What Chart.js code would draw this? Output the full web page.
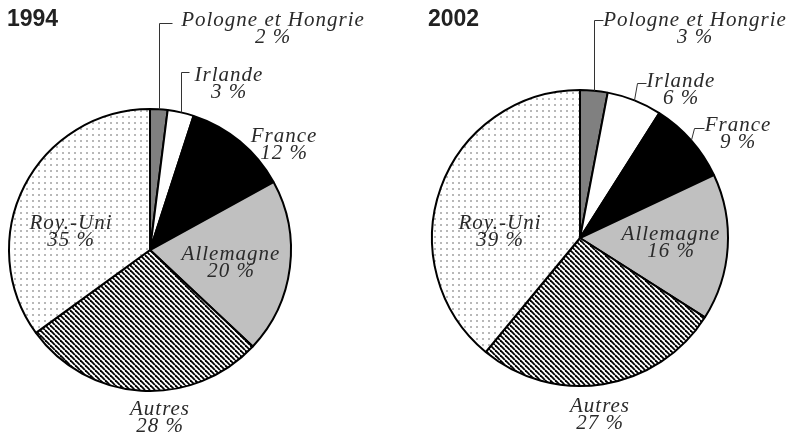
<!DOCTYPE html>
<html>
<head>
<meta charset="utf-8">
<script src="https://cdn.jsdelivr.net/npm/chart.js@4.4.0/dist/chart.umd.min.js"></script>
<style>
  html, body { margin: 0; padding: 0; background: #fff; }
  #wrap { position: relative; width: 790px; height: 439px; }
  canvas { position: absolute; left: 0; top: 0; }
</style>
</head>
<body>
<div id="wrap">
  <canvas id="pie1994" width="790" height="439"></canvas>
  <canvas id="pie2002" width="790" height="439"></canvas>
</div>
<script>
// data (clockwise from 12 o'clock)
const categories = ['Pologne et Hongrie', 'Irlande', 'France', 'Allemagne', 'Autres', 'Roy.-Uni']
const years = ['1994', '2002']
const shares1994 = [2, 3, 12, 20, 28, 35]
const shares2002 = [3, 6, 9, 16, 27, 39]

const W = 790
const H = 439
const BORDER = 2

function createHatchPattern(color = 'black', width = 1.8, size = 5) {
  let shape = document.createElement('canvas')
  shape.width = size
  shape.height = size
  let c = shape.getContext('2d')
  c.fillStyle = 'white'
  c.fillRect(0, 0, size, size)
  c.strokeStyle = color
  c.lineWidth = width
  for (let x = -1; x <= 1; x++) {
    c.beginPath()
    c.moveTo(x * size, 0)
    c.lineTo(x * size + size, size)
    c.stroke()
  }
  return c.createPattern(shape, 'repeat')
}

function createDotPattern(color = '#b8b8b8', dot = 2, size = 6) {
  let shape = document.createElement('canvas')
  shape.width = size
  shape.height = size
  let c = shape.getContext('2d')
  c.fillStyle = 'white'
  c.fillRect(0, 0, size, size)
  c.fillStyle = color
  c.fillRect(2, 2, dot, dot)
  return c.createPattern(shape, 'repeat')
}

const fills = ['#808080', '#ffffff', '#000000', '#c0c0c0', createHatchPattern(), createDotPattern()]

// where each pie sits and where its labels go (page pixels)
const layouts = [{
  canvas: 'pie1994',
  cx: 150, cy: 250, r: 141,
  titleX: 7,
  labels: [[273, 26], [229, 81], [284, 142], [231, 260], [160, 415], [71, 229]],
  leaders: [
    { index: 0, y: 23, dx: 0, tick: 13 },
    { index: 1, y: 72, dx: 0, tick: 8 }
  ]
}, {
  canvas: 'pie2002',
  cx: 580, cy: 238, r: 148,
  titleX: 428,
  labels: [[695, 26], [681, 87], [738, 131], [671, 240], [600, 412], [500, 229]],
  leaders: [
    { index: 0, y: 20, dx: 0, tick: 9 },
    { index: 1, y: 83, dx: 3, tick: 9 },
    { index: 2, y: 128, dx: 3, tick: 10 }
  ]
}]

const pieLabels = {
  id: 'pieLabels',
  afterDraw: (chart, args, opts) => {
    const { ctx } = chart
    const meta = chart.getDatasetMeta(0)
    const values = chart.data.datasets[0].data
    ctx.save()

    ctx.font = 'bold 23px "Liberation Sans", Arial, sans-serif'
    ctx.fillStyle = '#222'
    ctx.textAlign = 'left'
    ctx.textBaseline = 'alphabetic'
    ctx.fillText(opts.title, opts.layout.titleX, 26)

    // leader lines from the slice edge up to the label
    ctx.strokeStyle = '#333'
    ctx.lineWidth = 1
    opts.layout.leaders.forEach(l => {
      const arc = meta.data[l.index]
      const mid = (arc.startAngle + arc.endAngle) / 2
      const ex = Math.round(arc.x + Math.cos(mid) * arc.outerRadius) + 0.5
      const ey = arc.y + Math.sin(mid) * arc.outerRadius
      const kx = ex + l.dx
      const ky = l.y + 0.5
      ctx.beginPath()
      ctx.moveTo(ex, ey)
      ctx.lineTo(kx, ky)
      ctx.lineTo(kx + l.tick, ky)
      ctx.stroke()
    })

    ctx.font = 'italic 21px "Liberation Serif", "Times New Roman", serif'
    ctx.letterSpacing = '1px'
    ctx.fillStyle = '#2a2a2a'
    ctx.textAlign = 'center'
    categories.forEach((name, i) => {
      const p = opts.layout.labels[i]
      ctx.fillText(name, p[0], p[1])
      ctx.fillText(values[i] + ' %', p[0], p[1] + 17)
    })
    ctx.restore()
  }
}

function plotPie(layout, title, values) {
  const half = layout.r + BORDER / 2
  return new Chart(document.getElementById(layout.canvas), {
    type: 'pie',
    data: {
      labels: categories,
      datasets: [{
        data: values,
        backgroundColor: fills,
        borderColor: '#000',
        borderWidth: BORDER
      }]
    },
    plugins: [pieLabels],
    options: {
      responsive: false,
      animation: false,
      events: [],
      layout: {
        padding: {
          left: layout.cx - half,
          right: W - layout.cx - half,
          top: layout.cy - half,
          bottom: H - layout.cy - half
        }
      },
      plugins: {
        legend: { display: false },
        tooltip: { enabled: false },
        pieLabels: { title: title, layout: layout }
      }
    }
  })
}

plotPie(layouts[0], years[0], shares1994)
plotPie(layouts[1], years[1], shares2002)
</script>
</body>
</html>
